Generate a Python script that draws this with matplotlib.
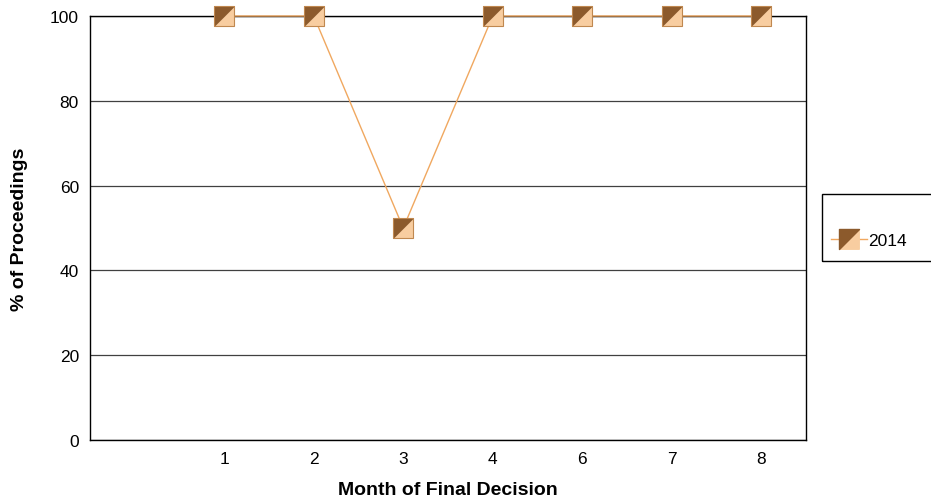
import matplotlib.pyplot as plt
from matplotlib.path import Path
from matplotlib.lines import Line2D
from matplotlib.patches import Rectangle

plt.rcParams['font.family'] = ['Liberation Sans', 'DejaVu Sans']

months = ['1', '2', '3', '4', '6', '7', '8']
pct_2014 = [100, 100, 50, 100, 100, 100, 100]
series_name = '2014'

line_col = '#F0A860'
dark_col = '#8C5A2C'
light_col = '#F8CDA0'
edge_col = '#C08850'

# two halves of the square marker, split on the diagonal
upper = Path([(-1, -1), (-1, 1), (1, 1), (-1, -1)], closed=True)
lower = Path([(-1, -1), (1, 1), (1, -1), (-1, -1)], closed=True)

fig = plt.figure(figsize=(9.31, 5.02), dpi=100)
ax = fig.add_axes([90/931, 1 - 441/502, 716/931, 424/502])

x = [i + 1 for i in range(len(months))]
ax.plot(x, pct_2014, color=line_col, lw=1, zorder=3, clip_on=False)
ax.plot(x, pct_2014, ls='none', marker=lower, ms=14, mfc=light_col, mec=light_col, mew=0.5, zorder=4, clip_on=False)
ax.plot(x, pct_2014, ls='none', marker=upper, ms=14, mfc=dark_col, mec=dark_col, mew=0.5, zorder=5, clip_on=False)
ax.plot(x, pct_2014, ls='none', marker='s', ms=14, mfc='none', mec=edge_col, mew=0.8, zorder=6, clip_on=False)

ax.set_xlim(-0.5, 7.5)
ax.set_ylim(0, 100)
ax.set_xticks(x)
ax.set_xticklabels(months)
ax.set_yticks([0, 20, 40, 60, 80, 100])
ax.tick_params(length=0, labelsize=12.5, pad=8)
ax.yaxis.grid(True, color='#404040', lw=0.9)
ax.set_axisbelow(True)
for s in ax.spines.values():
    s.set_color('black')
    s.set_linewidth(1)

ax.set_xlabel('Month of Final Decision', fontsize=14, fontweight='bold', labelpad=11)
ax.set_ylabel('% of Proceedings', fontsize=14, fontweight='bold', labelpad=16)

# legend box drawn by hand, entry placed inside it
fig.patches.append(Rectangle((822/931, 1 - 262/502), 130/931, 67/502,
                             transform=fig.transFigure, fill=False,
                             edgecolor='black', lw=1))
h = (Line2D([], [], color=line_col, lw=1),
     Line2D([], [], ls='none', marker=lower, ms=14, mfc=light_col, mec=light_col),
     Line2D([], [], ls='none', marker=upper, ms=14, mfc=dark_col, mec=dark_col))
fig.legend([h], [series_name], loc='center left',
           bbox_to_anchor=(831/931, 1 - 241/502), frameon=False, fontsize=12.5,
           handlelength=2.1, handletextpad=0.05, borderpad=0, borderaxespad=0)

fig.savefig('out.png', dpi=100)
